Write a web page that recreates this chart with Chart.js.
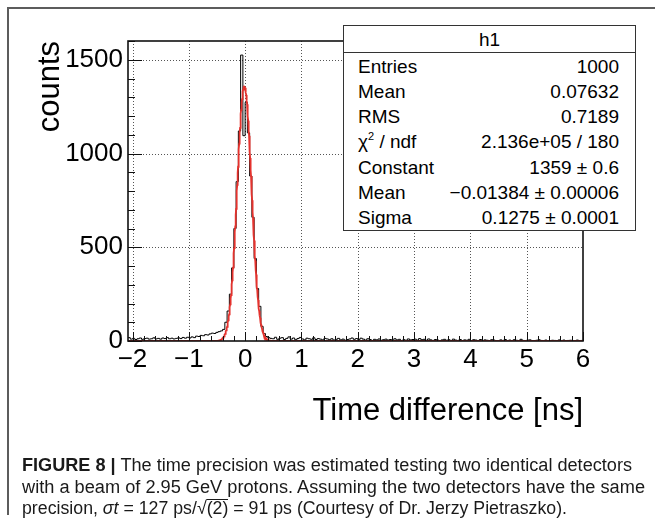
<!DOCTYPE html>
<html><head><meta charset="utf-8">
<script src="https://cdn.jsdelivr.net/npm/chart.js@4.4.0/dist/chart.umd.min.js"></script>
<style>
html,body{margin:0;padding:0;background:#fff;}
#wrap{position:relative;width:655px;height:523px;overflow:hidden;font-family:"Liberation Sans",Arial,Helvetica,sans-serif;color:#000;}
#frameTop{position:absolute;left:7px;top:7px;width:648px;height:2px;background:#5c5c5c;}
#frameLeft{position:absolute;left:7px;top:7px;width:2px;height:508px;background:#5c5c5c;}
#c{position:absolute;left:0;top:0;}
#stats{position:absolute;left:343px;top:25px;width:291px;height:204px;border:1px solid #333;background:#fff;font-size:19px;}
#stats .hdr{position:absolute;left:0;top:0;width:100%;height:26px;line-height:28px;text-align:center;border-bottom:1px solid #333;}
#stats .row{position:absolute;left:14px;right:16px;height:25px;line-height:25px;}
#stats .lab{position:absolute;left:0;top:0;}
#stats .val{position:absolute;right:0;top:0;}
#stats sup{font-size:11px;vertical-align:0;position:relative;top:-8px;}
#caption{position:absolute;left:22px;top:455px;font-size:18px;color:#1a1a1a;}
#caption .ln{display:block;white-space:nowrap;height:21.5px;line-height:21.5px;}
#caption .ln span.t{display:inline-block;transform-origin:0 50%;}
.ov{border-top:1px solid #1a1a1a;line-height:16px;display:inline-block;}
</style>
</head><body>
<div id="wrap">
  <div id="frameTop"></div><div id="frameLeft"></div>
  <canvas id="c" width="655" height="523"></canvas>
  <div id="stats"></div>
  <div id="caption">
    <div class="ln"><span class="t" data-w="610"><b>FIGURE 8 |</b> The time precision was estimated testing two identical detectors</span></div>
    <div class="ln"><span class="t" data-w="623">with a beam of 2.95 GeV protons. Assuming the two detectors have the same</span></div>
    <div class="ln"><span class="t" data-w="545">precision, <i>σt</i> = 127 ps/√<span class="ov">(2)</span> = 91 ps (Courtesy of Dr. Jerzy Pietraszko).</span></div>
  </div>
</div>
<script>
// ---- data ----
const binLow = -2.08;
const binWidth = 0.04;
const counts = [
  18,10,14,8,12,16,9,13,15,10,12,17,11,14,10,16,13,18,12,15,11,14,17,13,19,15,20,16,
  22,18,26,24,30,28,34,32,38,42,40,46,50,54,62,
  100,160,250,390,600,850,1120,1525,1095,1273,1110,880,660,440,280,185,78,40,24,18,14,
  12,20,9,15,18,8,14,22,10,16,7,13,19,11,6,15,12,9,17,8,13,10,6,14,11,
  7,12,5,9,14,6,10,4,8,11,16,9,13,7,15,10,5,12,8,3,9,6,11,4,7,
  10,5,8,3,12,6,9,0,7,4,11,6,8,10,5,13,7,9,4,11,6,3,8,5,0,
  6,9,4,7,0,10,5,3,8,0,6,4,9,2,7,5,0,8,3,6,4,0,7,5,2,
  0,6,3,8,0,5,2,7,4,0,9,3,0,5,6,2,0,4,7,3,0,5,2,0,4,
  3,0,6,2,5,0,3,4,0,2,5,0,3
];
const xTickValues = [-2,-1,0,1,2,3,4,5,6];
const yTickValues = [0,500,1000,1500];
const xMin = -2.08, xMax = 6, yMin = 0, yMax = 1600;
const fitConstant = 1359, fitMean = -0.01384, fitSigma = 0.1275;
const statsTitle = 'h1';
const statsLabels = ['Entries','Mean','RMS','χ<sup>2</sup> / ndf','Constant','Mean','Sigma'];
const statsValues = ['1000','0.07632','0.7189','2.136e+05 / 180','1359 ± 0.6','\u22120.01384 ± 0.00006','0.1275 ± 0.0001'];

// ---- stats box ----
const st = document.getElementById('stats');
let html = '<div class="hdr">' + statsTitle + '</div>';
statsLabels.forEach((l,i)=>{
  html += '<div class="row" style="top:' + (27.5 + i*25.3).toFixed(1) + 'px"><span class="lab">' + l + '</span><span class="val">' + statsValues[i] + '</span></div>';
});
st.innerHTML = html;

// ---- caption width fit (condensed look) ----
document.querySelectorAll('#caption .t').forEach(el=>{
  const w = el.getBoundingClientRect().width;
  el.style.transform = 'scaleX(' + (+el.dataset.w / w).toFixed(4) + ')';
});

// ---- datasets ----
const histPts = counts.map((c,i)=>({x: binLow + i*binWidth, y: c}));
histPts.push({x: binLow + counts.length*binWidth, y: counts[counts.length-1]});
const fitPts = [];
for (let i = 0; i <= 1616; i++) {
  const x = xMin + i*0.005;
  fitPts.push({x: x, y: fitConstant*Math.exp(-0.5*Math.pow((x-fitMean)/fitSigma,2))});
}

const FONT = '"Liberation Sans", Arial, Helvetica, sans-serif';
Chart.defaults.font.family = FONT;
Chart.defaults.color = '#000';

const frameGrid = {
  id: 'frameGrid',
  beforeDatasetsDraw(chart){
    const {ctx, chartArea:a, scales:{x,y}} = chart;
    ctx.save();
    ctx.strokeStyle = '#555'; ctx.lineWidth = 1; ctx.setLineDash([1,2]);
    ctx.beginPath();
    xTickValues.forEach(v=>{
      const px = Math.round(x.getPixelForValue(v)) + 0.5;
      if (px < a.right - 3) { ctx.moveTo(px, a.top); ctx.lineTo(px, a.bottom); }
    });
    yTickValues.forEach(v=>{
      if (v === 0) return;
      const py = Math.round(y.getPixelForValue(v)) + 0.5;
      ctx.moveTo(a.left, py); ctx.lineTo(a.right, py);
    });
    ctx.stroke();
    ctx.restore();
  },
  afterDatasetsDraw(chart){
    const {ctx, chartArea:a, scales:{x,y}} = chart;
    ctx.save();
    ctx.setLineDash([]);
    ctx.strokeStyle = '#111'; ctx.lineWidth = 1;
    ctx.beginPath();
    for (let v = 0; v <= 1600; v += 100) {
      const py = Math.round(y.getPixelForValue(v)) + 0.5;
      const len = (v % 500 === 0) ? 14 : 7;
      ctx.moveTo(a.left, py); ctx.lineTo(a.left + len, py);
    }
    for (let i = -10; i <= 30; i++) {
      const px = Math.round(x.getPixelForValue(i*0.2)) + 0.5;
      const len = (i % 5 === 0) ? 9 : 5;
      ctx.moveTo(px, a.bottom); ctx.lineTo(px, a.bottom - len);
    }
    ctx.stroke();
    ctx.lineWidth = 1.6; ctx.strokeStyle = '#111';
    ctx.strokeRect(a.left, a.top, a.right - a.left, a.bottom - a.top);
    ctx.restore();
  }
};

new Chart(document.getElementById('c'), {
  type: 'line',
  data: { datasets: [
    { label: 'fit', data: fitPts, borderColor: '#e5322d', borderWidth: 1.8, pointRadius: 0, tension: 0, order: 0 },
    { label: 'h1', data: histPts, borderColor: '#000', borderWidth: 1, pointRadius: 0, stepped: true, order: 1 }
  ]},
  options: {
    responsive: false, animation: false, devicePixelRatio: 1,
    layout: { padding: { left: 0, right: 72, top: 41, bottom: 92 } },
    plugins: { legend: { display: false }, tooltip: { enabled: false } },
    scales: {
      x: {
        type: 'linear', min: xMin, max: xMax,
        afterBuildTicks: s => { s.ticks = xTickValues.map(v => ({value: v})); },
        afterFit: s => { s.height = 90; },
        grid: { display: false, drawTicks: false, tickLength: 0 },
        border: { display: false },
        ticks: { padding: 3, font: { size: 26 }, color: '#000', maxRotation: 0, autoSkip: false,
                 callback: v => String(v).replace('-', '\u2212') },
        title: { display: true, text: 'Time difference [ns]', align: 'end', font: { size: 31 }, color: '#000', padding: { top: 0, bottom: 1 } }
      },
      y: {
        type: 'linear', min: yMin, max: yMax,
        afterBuildTicks: s => { s.ticks = yTickValues.map(v => ({value: v})); },
        afterFit: s => { s.width = 128; },
        grid: { display: false, drawTicks: false, tickLength: 0 },
        border: { display: false },
        ticks: { padding: 5, font: { size: 26 }, color: '#000', autoSkip: false, callback: v => String(v) },
        title: { display: true, text: 'counts', align: 'end', font: { size: 31 }, color: '#000', padding: { top: 32, bottom: 0 } }
      }
    }
  },
  plugins: [frameGrid]
});
</script>
</body></html>
